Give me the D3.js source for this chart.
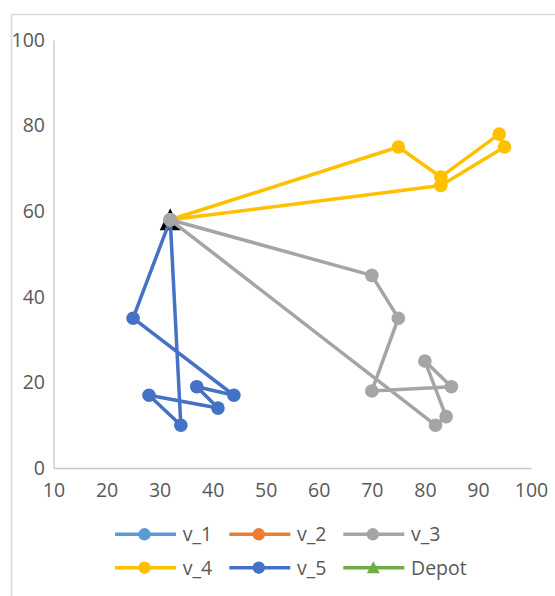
<!DOCTYPE html>
<html>
<head>
<meta charset="utf-8">
<script src="https://cdn.jsdelivr.net/npm/d3@7"></script>
<style>
  html, body { margin: 0; padding: 0; background: #fff; }
  svg { display: block; }
  text { font-family: "Open Sans", sans-serif; fill: #595959; }
</style>
</head>
<body>
<svg id="chart" width="555" height="596"></svg>
<script>
// Depot location and the vehicle routes (each starts and ends at the depot)
const depot = [32, 58];
const v_1 = [];
const v_2 = [];
const v_3 = [[32, 58], [70, 45], [75, 35], [70, 18], [85, 19], [80, 25], [84, 12], [82, 10], [32, 58]];
const v_4 = [[32, 58], [75, 75], [83, 68], [94, 78], [95, 75], [83, 66], [32, 58]];
const v_5 = [[32, 58], [25, 35], [44, 17], [37, 19], [41, 14], [28, 17], [34, 10], [32, 58]];

const xTicks = [10, 20, 30, 40, 50, 60, 70, 80, 90, 100];
const yTicks = [0, 20, 40, 60, 80, 100];

const seriesNames = ["v_1", "v_2", "v_3", "v_4", "v_5", "Depot"];
const seriesColors = ["#5b9bd5", "#ed7d31", "#a5a5a5", "#ffc000", "#4472c4", "#70ad47"];

const svg = d3.select("#chart");

// chart frame
svg.append("rect")
  .attr("x", 11.5).attr("y", 14.5)
  .attr("width", 600).attr("height", 640)
  .attr("fill", "none").attr("stroke", "#d9d9d9").attr("stroke-width", 1.5);

const x = d3.scaleLinear().domain([10, 100]).range([53.5, 531]);
const y = d3.scaleLinear().domain([0, 100]).range([468, 40]);

// axes
const yAxis = svg.append("g")
  .attr("transform", `translate(${x(10)},0)`)
  .call(d3.axisLeft(y).tickValues(yTicks).tickSize(0).tickSizeOuter(0).tickPadding(8.5));
const xAxis = svg.append("g")
  .attr("transform", `translate(0,${y(0)})`)
  .call(d3.axisBottom(x).tickValues(xTicks).tickSize(0).tickSizeOuter(0).tickPadding(15));

[xAxis, yAxis].forEach(g => {
  g.select(".domain").attr("stroke", "#c6c6c6").attr("stroke-width", 1.3);
  g.selectAll("text")
    .style("font-family", '"Open Sans", sans-serif')
    .style("font-size", "19.5px")
    .attr("fill", "#595959");
});

// depot marker (drawn beneath the routes)
const tri = (cx, cy, w, h) => `M${cx},${cy - h / 2}L${cx + w / 2},${cy + h / 2}L${cx - w / 2},${cy + h / 2}Z`;
svg.append("path")
  .attr("d", tri(x(depot[0]), y(depot[1]) - 0.5, 21, 22))
  .attr("fill", "#000");

const line = d3.line().x(d => x(d[0])).y(d => y(d[1]));

// routes: later ones sit on top
const routes = [
  { data: v_1, color: seriesColors[0] },
  { data: v_2, color: seriesColors[1] },
  { data: v_5, color: seriesColors[4] },
  { data: v_4, color: seriesColors[3] },
  { data: v_3, color: seriesColors[2] }
];

routes.forEach(r => {
  if (!r.data.length) return;
  const g = svg.append("g");
  g.append("path")
    .datum(r.data)
    .attr("d", line)
    .attr("fill", "none")
    .attr("stroke", r.color)
    .attr("stroke-width", 3.5)
    .attr("stroke-linejoin", "round");
  g.selectAll("circle")
    .data(r.data)
    .join("circle")
    .attr("cx", d => x(d[0]))
    .attr("cy", d => y(d[1]))
    .attr("r", 6.8)
    .attr("fill", r.color);
});

// legend
const legendCols = [115, 229.3, 343.3];
const legendRows = [534.3, 567.7];
const legend = svg.append("g");
seriesNames.forEach((name, i) => {
  const lx = legendCols[i % 3];
  const ly = legendRows[Math.floor(i / 3)];
  const item = legend.append("g");
  item.append("line")
    .attr("x1", lx).attr("x2", lx + 61)
    .attr("y1", ly).attr("y2", ly)
    .attr("stroke", seriesColors[i]).attr("stroke-width", 3.5);
  if (name === "Depot") {
    item.append("path")
      .attr("d", tri(lx + 30, ly - 0.5, 13, 12))
      .attr("fill", seriesColors[i]);
  } else {
    item.append("circle")
      .attr("cx", lx + 29.5).attr("cy", ly)
      .attr("r", 6.2)
      .attr("fill", seriesColors[i]);
  }
  item.append("text")
    .attr("x", lx + 67.7)
    .attr("y", ly)
    .attr("dy", "0.36em")
    .style("font-size", "19.5px")
    .text(name);
});
</script>
</body>
</html>
